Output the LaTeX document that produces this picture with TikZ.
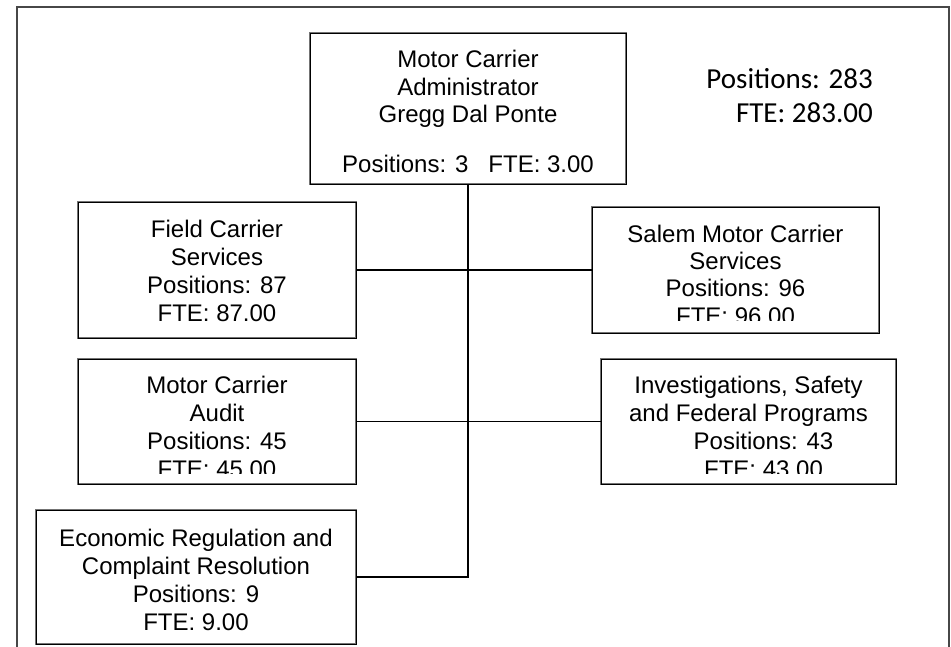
\documentclass[tikz,border=0pt]{standalone}
\usepackage{fontspec}
\setmainfont{Liberation Sans}
\newfontfamily\totalsfont{Carlito}
\begin{document}
\begin{tikzpicture}[x=1pt,y=-1pt,
  framestyle/.style={draw=black!72, line width=2pt},
  orgbox/.style={draw=black, line width=0.8pt, preaction={draw=black!55, line width=2.6pt}, inner sep=0pt, outer sep=0pt},
  boxtext/.style={align=center, inner sep=0pt, font=\fontsize{24}{28}\selectfont},
  totals/.style={inner sep=0pt, font=\totalsfont\fontsize{29}{34}\selectfont},
  link/.style={draw=black, line width=1.6pt}]
\useasboundingbox (0,0) rectangle (951,647);
% outer frame (open at the bottom)
\draw[framestyle] (16.5,647) -- (16.5,7.5) -- (948.5,7.5) -- (948.5,647);

% top box
\node[orgbox, minimum width=316pt, minimum height=151pt,
  path picture={\node[boxtext, anchor=north] (top-text) at ([yshift=-3.2pt]path picture bounding box.north)
   {Motor Carrier\\[-0.5pt]Administrator\\[-0.5pt]Gregg Dal Ponte\\[22pt]Positions: 3\ \ \ FTE: 3.00};}]
  (top) at (468,108.5) {};

\node[orgbox, minimum width=278pt, minimum height=136pt,
  path picture={\node[boxtext, anchor=north] (field-text) at ([yshift=-0.7pt]path picture bounding box.north)
   {Field Carrier\\Services\\Positions: 87\\FTE: 87.00};}]
  (field) at (217,270) {};

\node[orgbox, minimum width=287pt, minimum height=126pt,
  path picture={\clip (path picture bounding box.north west) rectangle ([yshift=13pt]path picture bounding box.south east);
   \node[boxtext, anchor=north] (salem-text) at ([yshift=-4.7pt]path picture bounding box.north)
   {Salem Motor Carrier\\[-0.7pt]Services\\[-0.7pt]Positions: 96\\[-0.7pt]FTE: 96.00};}]
  (salem) at (735.5,270) {};

\node[orgbox, minimum width=278pt, minimum height=125pt,
  path picture={\clip (path picture bounding box.north west) rectangle ([yshift=10.7pt]path picture bounding box.south east);
   \node[boxtext, anchor=north] (audit-text) at ([yshift=-5pt]path picture bounding box.north)
   {Motor Carrier\\Audit\\Positions: 45\\FTE: 45.00};}]
  (audit) at (217,421.5) {};

\node[orgbox, minimum width=295pt, minimum height=125pt,
  path picture={\clip (path picture bounding box.north west) rectangle ([yshift=10.7pt]path picture bounding box.south east);
   \node[boxtext, anchor=north] (invest-text) at ([yshift=-5pt]path picture bounding box.north)
   {Investigations, Safety\\and Federal Programs\\\hspace*{30pt}Positions: 43\\\hspace*{30pt}FTE: 43.00};}]
  (invest) at (748.5,421.5) {};

\node[orgbox, minimum width=320pt, minimum height=134pt,
  path picture={\node[boxtext, anchor=north] (econ-text) at ([yshift=-2.7pt]path picture bounding box.north)
   {Economic Regulation and\\Complaint Resolution\\Positions: 9\\FTE: 9.00};}]
  (econ) at (196,577) {};

% totals
\node[totals, anchor=base east] (totpos) at (873,89) {Positions: 283};
\node[totals, anchor=base east] (totfte) at (873,123) {FTE: 283.00};

% connectors
\draw[link] (top.south) -- (top.south |- econ.east) -- (econ.east);
\draw[link] (field.east) -- (salem.west);
\draw[link] (audit.east) -- (invest.west);
\end{tikzpicture}
\end{document}
